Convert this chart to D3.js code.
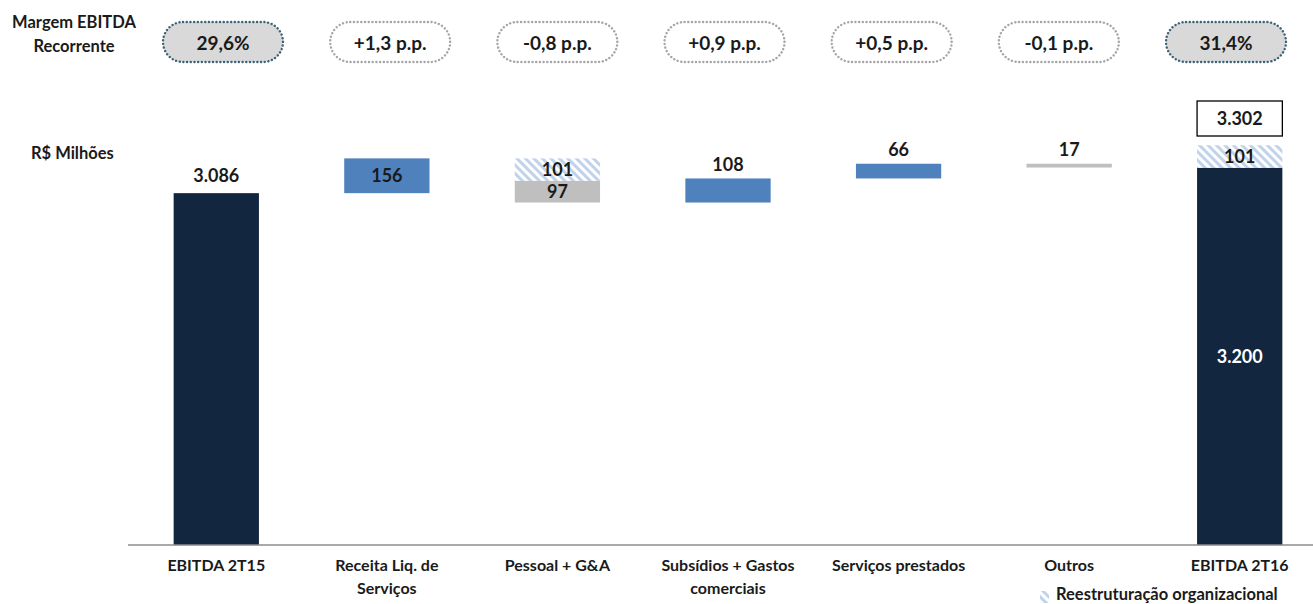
<!DOCTYPE html>
<html>
<head>
<meta charset="utf-8">
<script src="https://cdn.jsdelivr.net/npm/d3@7"></script>
<style>
  body { margin: 0; background: #fff; }
  svg { display: block; font-family: Lato, 'Liberation Sans', sans-serif; font-weight: bold; }
</style>
</head>
<body>
<div id="vis"></div>
<script>
// waterfall EBITDA 2T15 -> 2T16
const FRAME_WIDTH = 1313;
const FRAME_HEIGHT = 604;

// data
const categories = ['EBITDA 2T15', 'Receita Liq. de Serviços', 'Pessoal + G&A',
                    'Subsídios + Gastos comerciais', 'Serviços prestados', 'Outros', 'EBITDA 2T16'];
const categoryLines = [['EBITDA 2T15'], ['Receita Liq. de', 'Serviços'], ['Pessoal + G&A'],
                       ['Subsídios + Gastos', 'comerciais'], ['Serviços prestados'], ['Outros'], ['EBITDA 2T16']];
const values = [3086, 156, -97, 108, 66, -17, 3200];       // totals at both ends, deltas between
const restructuring = [0, 0, 101, 0, 0, 0, 101];           // reestruturação organizacional
const recurringTotal = 3302;
const marginLabels = ['29,6%', '+1,3 p.p.', '-0,8 p.p.', '+0,9 p.p.', '+0,5 p.p.', '-0,1 p.p.', '31,4%'];

const NAVY = '#12263f';
const BLUE = '#4f81bd';
const GRAY = '#bfbfbf';
const INK = '#1a1a1a';
const fmt = d3.format(',d');
const ptbr = (v) => fmt(v).replace(/,/g, '.');

const svg = d3.select('#vis').append('svg')
    .attr('width', FRAME_WIDTH)
    .attr('height', FRAME_HEIGHT);

// hatch pattern
svg.append('defs').append('pattern')
    .attr('id', 'hatch')
    .attr('patternUnits', 'userSpaceOnUse')
    .attr('width', 6).attr('height', 6)
    .attr('patternTransform', 'rotate(-45)')
    .call(p => {
        p.append('rect').attr('width', 6).attr('height', 6).attr('fill', '#fff');
        p.append('rect').attr('width', 3).attr('height', 6).attr('fill', '#c0d3ea');
    });

// build segments
let level = 0;
const segs = [];
values.forEach((v, i) => {
    const last = i === values.length - 1;
    if (i === 0 || last) {
        segs.push({i, y0: null, y1: v, fill: NAVY, type: 'total', v});
        if (restructuring[i]) segs.push({i, y0: v, y1: v + restructuring[i], fill: 'url(#hatch)', type: 'restr', v: restructuring[i]});
        level = v;
    } else {
        if (restructuring[i]) {
            segs.push({i, y0: level, y1: level - restructuring[i], fill: 'url(#hatch)', type: 'restr', v: restructuring[i]});
            level -= restructuring[i];
        }
        segs.push({i, y0: level, y1: level + v, fill: v >= 0 ? BLUE : GRAY, type: 'delta', v});
        level += v;
    }
});

const X_SCALE = d3.scaleBand().domain(categories).range([131, 1325])
    .paddingInner(0.5).paddingOuter(0.25);
const Y_SCALE = d3.scaleLinear().domain([1508, recurringTotal]).range([545, 145]);
const PILL_SCALE = d3.scalePoint().domain(categories).range([223, 1226]);
const bw = X_SCALE.bandwidth();

const yBase = Y_SCALE.range()[0];
const segTop = d => Y_SCALE(Math.max(d.y0 === null ? Y_SCALE.domain()[0] : d.y0, d.y1));
const segBot = d => d.y0 === null ? yBase : Y_SCALE(Math.min(d.y0, d.y1));

// bars
svg.selectAll('.bar').data(segs).enter().append('rect')
    .attr('class', 'bar')
    .attr('x', d => X_SCALE(categories[d.i]))
    .attr('width', bw)
    .attr('y', segTop)
    .attr('height', d => segBot(d) - segTop(d))
    .attr('fill', d => d.fill);

// baseline axis
svg.append('g')
    .attr('transform', 'translate(0,' + yBase + ')')
    .call(d3.axisBottom(X_SCALE).tickSize(0).tickFormat(''))
    .call(g => g.select('.domain').attr('stroke', '#8c8c8c').attr('stroke-width', 1.5).attr('d', 'M128,0H1313'));

// category labels
categories.forEach((c, i) => {
    const t = svg.append('text')
        .attr('x', X_SCALE(c) + bw / 2)
        .attr('text-anchor', 'middle')
        .attr('font-size', 16)
        .attr('fill', INK);
    categoryLines[i].forEach((line, k) => {
        t.append('tspan').attr('x', X_SCALE(c) + bw / 2).attr('y', 571 + k * 23).text(line);
    });
});

// value labels
segs.forEach(d => {
    const cx = X_SCALE(categories[d.i]) + bw / 2;
    const h = segBot(d) - segTop(d);
    const inside = d.type === 'restr' || h >= 30 || (d.v < 0 && h >= 15);
    let y, color = INK;
    if (d.type === 'total') {
        if (d.i === 0) { y = segTop(d) - 11.5; }
        else { y = (segTop(d) + segBot(d)) / 2 + 6.5; color = '#fff'; }
    } else if (inside) {
        y = (segTop(d) + segBot(d)) / 2 + 6.5;
    } else {
        y = segTop(d) - 7.5;
    }
    svg.append('text')
        .attr('x', cx).attr('y', y)
        .attr('text-anchor', 'middle')
        .attr('font-size', 18)
        .attr('fill', color)
        .text(ptbr(Math.abs(d.v)));
});

// recurring total box
const lastCat = categories[categories.length - 1];
svg.append('rect')
    .attr('x', X_SCALE(lastCat))
    .attr('y', Y_SCALE(recurringTotal) - 44)
    .attr('width', bw).attr('height', 35)
    .attr('fill', '#fff').attr('stroke', '#000').attr('stroke-width', 1.3);
svg.append('text')
    .attr('x', X_SCALE(lastCat) + bw / 2)
    .attr('y', Y_SCALE(recurringTotal) - 20)
    .attr('text-anchor', 'middle')
    .attr('font-size', 18).attr('fill', INK)
    .text(ptbr(recurringTotal));

// margin pills
marginLabels.forEach((m, i) => {
    const ends = i === 0 || i === marginLabels.length - 1;
    const cx = PILL_SCALE(categories[i]);
    svg.append('rect')
        .attr('x', cx - 60).attr('y', 22)
        .attr('width', 120).attr('height', 40)
        .attr('rx', 20)
        .attr('fill', ends ? '#d9d9d9' : '#fff')
        .attr('stroke', ends ? '#3d6277' : '#a6a6a6')
        .attr('stroke-width', 2.4)
        .attr('stroke-linecap', 'round')
        .attr('stroke-dasharray', '0.1 3.6');
    svg.append('text')
        .attr('x', cx).attr('y', 49.5)
        .attr('text-anchor', 'middle')
        .attr('font-size', 19).attr('fill', INK)
        .text(m);
});

// left labels
svg.append('text').attr('x', 74).attr('y', 28).attr('text-anchor', 'middle')
    .attr('font-size', 16.5).attr('fill', INK).text('Margem EBITDA');
svg.append('text').attr('x', 74).attr('y', 52).attr('text-anchor', 'middle')
    .attr('font-size', 16.5).attr('fill', INK).text('Recorrente');
svg.append('text').attr('x', 31).attr('y', 159)
    .attr('font-size', 16.5).attr('fill', INK).text('R$ Milhões');

// legend
svg.append('rect').attr('x', 1040).attr('y', 591).attr('width', 9).attr('height', 12)
    .attr('fill', 'url(#hatch)');
svg.append('text').attr('x', 1056).attr('y', 600)
    .attr('font-size', 16.5).attr('fill', INK).text('Reestruturação organizacional');
</script>
</body>
</html>
